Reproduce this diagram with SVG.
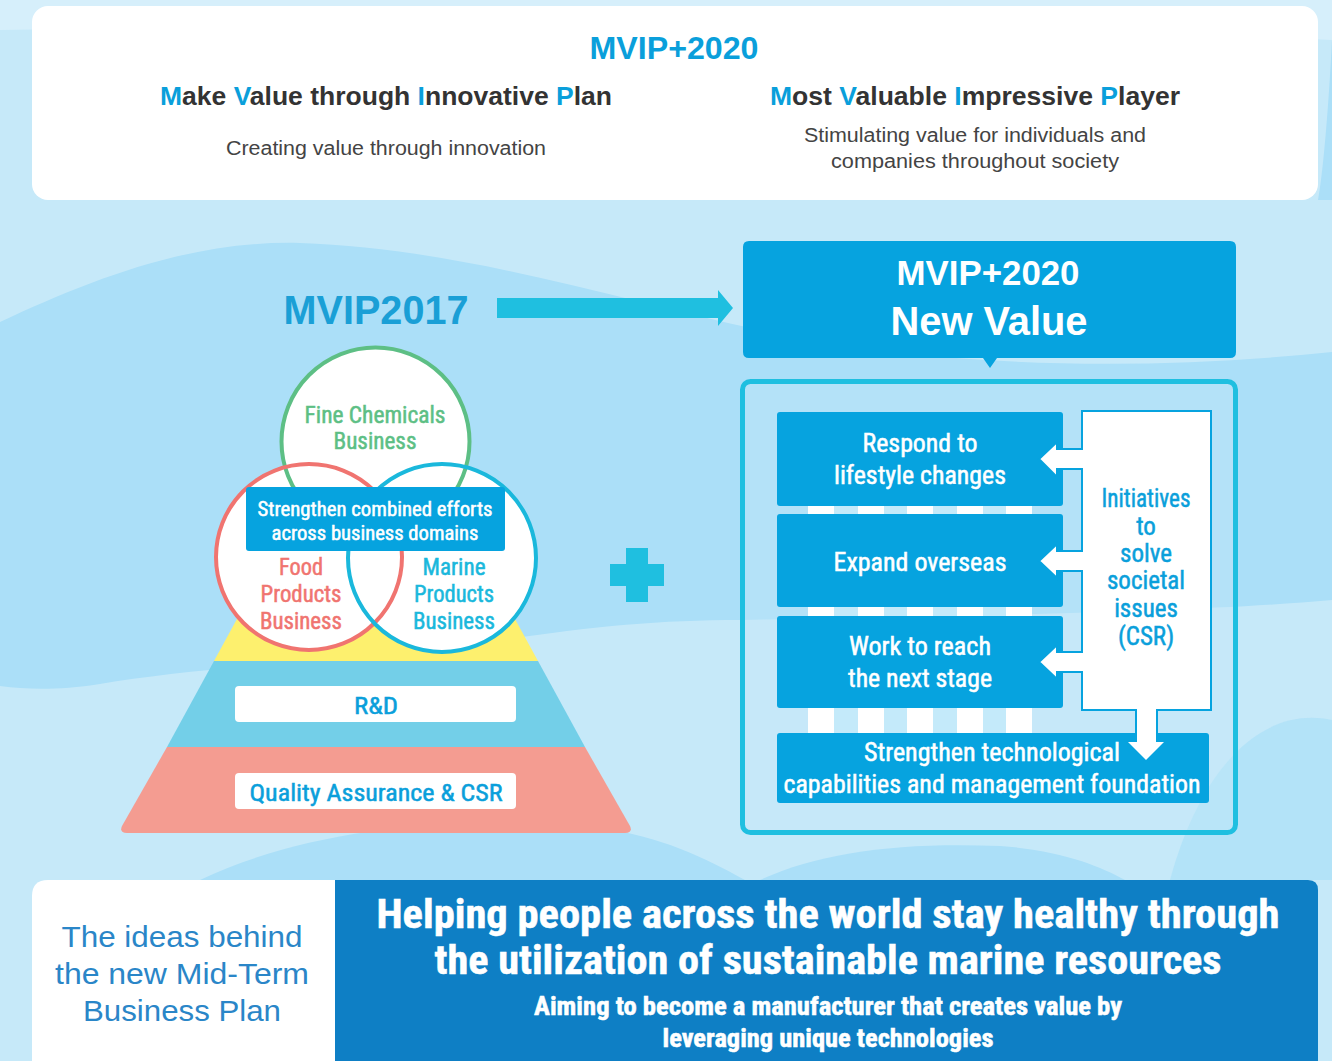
<svg xmlns="http://www.w3.org/2000/svg" width="1332" height="1061" viewBox="0 0 1332 1061">
  <defs>
    <style>
      .n { font-family: "Liberation Sans Narrow", "Roboto Condensed", "Liberation Sans", Arial, sans-serif; text-anchor: middle; stroke-width: 0.5; }
      .r { font-family: "Liberation Sans", Arial, Helvetica, sans-serif; text-anchor: middle; }
      .w { fill: #ffffff; }
      .n.w { stroke: #ffffff; }
      .cy { fill: #0a9fdb; }
      .n.cy, .n .cy { stroke: #0a9fdb; }
      .dk { fill: #333333; }
      .box { fill: #06a3df; }
      .ring { fill: none; stroke-width: 4; }
      .wave { fill: #abdff8; }
    </style>
  </defs>

  <!-- background waves -->
  <rect x="0" y="0" width="1332" height="1061" fill="#c6e9f9"/>
  <path d="M0,0 H1332 V40 C1000,25 600,20 0,30 Z" fill="#d6effb"/>
  <path class="wave" d="M1332,40 C1328,120 1322,180 1318,200 L1332,200 Z"/>
  <path class="wave" d="M0,322 C90,280 190,240 300,243 C460,248 620,300 760,330 C940,368 1140,372 1332,352 V600 C1200,612 1000,615 741,620 C640,620 560,630 440,650 C300,662 180,670 100,684 C60,690 30,690 0,686 Z"/>
  <path class="wave" d="M200,880 C300,832 450,812 600,828 C660,836 705,858 745,880 Z"/>
  <path class="wave" d="M760,880 C820,852 900,842 1000,846 C1060,850 1100,866 1125,880 Z"/>
  <path class="wave" d="M1170,880 C1200,770 1260,705 1332,720 V880 Z" opacity="0.7"/>

  <!-- top header card -->
  <g id="header-card">
    <rect x="32" y="6" width="1286" height="194" rx="16" fill="#ffffff"/>
    <text class="r cy" x="674" y="59" font-size="31" font-weight="bold" textLength="169" lengthAdjust="spacingAndGlyphs">MVIP+2020</text>
    <text class="r dk" x="386" y="105" font-size="25" font-weight="bold" textLength="452" lengthAdjust="spacingAndGlyphs"><tspan class="cy">M</tspan>ake <tspan class="cy">V</tspan>alue through <tspan class="cy">I</tspan>nnovative <tspan class="cy">P</tspan>lan</text>
    <text class="r dk" x="975" y="105" font-size="25" font-weight="bold" textLength="410" lengthAdjust="spacingAndGlyphs"><tspan class="cy">M</tspan>ost <tspan class="cy">V</tspan>aluable <tspan class="cy">I</tspan>mpressive <tspan class="cy">P</tspan>layer</text>
    <text class="r" x="386" y="155" font-size="19.5" fill="#444444" textLength="320" lengthAdjust="spacingAndGlyphs">Creating value through innovation</text>
    <text class="r" x="975" y="142" font-size="19.5" fill="#444444" textLength="342" lengthAdjust="spacingAndGlyphs">Stimulating value for individuals and</text>
    <text class="r" x="975" y="168" font-size="19.5" fill="#444444" textLength="288" lengthAdjust="spacingAndGlyphs">companies throughout society</text>
  </g>

  <!-- MVIP2017 title -->
  <g id="mvip2017">
    <text class="r" x="376" y="324" font-size="40" font-weight="bold" fill="#1a9fd6" textLength="185" lengthAdjust="spacingAndGlyphs">MVIP2017</text>
  </g>

  <!-- pyramid -->
  <g id="pyramid">
    <path d="M376,365 L538,661 L214,661 Z" fill="#fdf06e"/>
    <path d="M214,661 L538,661 L585,747 L167,747 Z" fill="#73cfe8"/>
    <path d="M167,747 L585,747 L630,826 Q633,833 625,833 L127,833 Q119,833 122,826 Z" fill="#f49c91"/>
    <rect x="235" y="686" width="281" height="36" rx="4" fill="#ffffff"/>
    <text class="n cy" x="376" y="714" font-size="24" textLength="44" lengthAdjust="spacingAndGlyphs">R&amp;D</text>
    <rect x="235" y="773" width="281" height="36" rx="4" fill="#ffffff"/>
    <text class="n cy" x="376" y="801" font-size="24" textLength="253" lengthAdjust="spacingAndGlyphs">Quality Assurance &amp; CSR</text>
  </g>

  <!-- venn of the three businesses -->
  <g id="venn">
    <circle cx="375.5" cy="441.5" r="94" fill="#ffffff"/>
    <circle cx="309" cy="557" r="93" fill="#ffffff"/>
    <circle cx="442" cy="558" r="94" fill="#ffffff"/>
    <circle class="ring" cx="375.5" cy="441.5" r="94" stroke="#5dbf85"/>
    <circle class="ring" cx="309" cy="557" r="93" stroke="#f07470"/>
    <circle class="ring" cx="442" cy="558" r="94" stroke="#1ab8dc"/>
    <g class="n" fill="#5dbf85" stroke="#5dbf85" font-size="23">
      <text x="375" y="423" textLength="141" lengthAdjust="spacingAndGlyphs">Fine Chemicals</text>
      <text x="375" y="449" textLength="83" lengthAdjust="spacingAndGlyphs">Business</text>
    </g>
    <g class="n" fill="#f07470" stroke="#f07470" font-size="23">
      <text x="301" y="575" textLength="44" lengthAdjust="spacingAndGlyphs">Food</text>
      <text x="301" y="602" textLength="81" lengthAdjust="spacingAndGlyphs">Products</text>
      <text x="301" y="629" textLength="82" lengthAdjust="spacingAndGlyphs">Business</text>
    </g>
    <g class="n" fill="#1ab8dc" stroke="#1ab8dc" font-size="23">
      <text x="454" y="575" textLength="63" lengthAdjust="spacingAndGlyphs">Marine</text>
      <text x="454" y="602" textLength="80" lengthAdjust="spacingAndGlyphs">Products</text>
      <text x="454" y="629" textLength="82" lengthAdjust="spacingAndGlyphs">Business</text>
    </g>
  </g>

  <g id="combined-efforts">
    <rect class="box" x="246" y="487" width="259" height="64" rx="3"/>
    <text class="n w" x="375" y="516" font-size="20" textLength="235" lengthAdjust="spacingAndGlyphs">Strengthen combined efforts</text>
    <text class="n w" x="375" y="540" font-size="20" textLength="207" lengthAdjust="spacingAndGlyphs">across business domains</text>
  </g>

  <!-- plus sign -->
  <g id="plus">
    <path d="M626,548 H648 V564 H664 V586 H648 V602 H626 V586 H610 V564 H626 Z" fill="#1fbfe0"/>
  </g>

  <!-- connectors -->
  <g id="connectors">
    <path d="M497,298 H718 V290 L733,308 L718,326 V318 H497 Z" fill="#1fbfe0"/>
  </g>

  <!-- MVIP+2020 new value header -->
  <g id="new-value">
    <path d="M749,241 H1230 Q1236,241 1236,247 V352 Q1236,358 1230,358 H997 L990,368 L983,358 H749 Q743,358 743,352 V247 Q743,241 749,241 Z" fill="#06a3df"/>
    <text class="r w" x="988" y="285" font-size="35" font-weight="bold" textLength="183" lengthAdjust="spacingAndGlyphs">MVIP+2020</text>
    <text class="r w" x="989" y="335" font-size="41" font-weight="bold" textLength="197" lengthAdjust="spacingAndGlyphs">New Value</text>
  </g>

  <!-- new value frame -->
  <g id="frame">
    <rect x="742.5" y="381.5" width="493" height="451" rx="8" fill="#c6e9f9" fill-opacity="0.35" stroke="#1fbfe0" stroke-width="5"/>
    <!-- ladder columns linking the pillars -->
    <g fill="#c4eafa">
      <rect x="834" y="500" width="24" height="236"/>
      <rect x="884" y="500" width="23" height="236"/>
      <rect x="933" y="500" width="24" height="236"/>
      <rect x="983" y="500" width="23" height="236"/>
    </g>
    <g fill="#ffffff">
      <rect x="808" y="500" width="26" height="236"/>
      <rect x="858" y="500" width="26" height="236"/>
      <rect x="907" y="500" width="26" height="236"/>
      <rect x="957" y="500" width="26" height="236"/>
      <rect x="1006" y="500" width="26" height="236"/>
    </g>
  </g>

  <g id="respond">
    <rect class="box" x="777" y="412" width="286" height="94" rx="3"/>
    <text class="n w" x="920" y="452" font-size="25" textLength="115" lengthAdjust="spacingAndGlyphs">Respond to</text>
    <text class="n w" x="920" y="484" font-size="25" textLength="172" lengthAdjust="spacingAndGlyphs">lifestyle changes</text>
  </g>
  <g id="expand">
    <rect class="box" x="777" y="514" width="286" height="93" rx="3"/>
    <text class="n w" x="920" y="571" font-size="25" textLength="173" lengthAdjust="spacingAndGlyphs">Expand overseas</text>
  </g>
  <g id="next-stage">
    <rect class="box" x="777" y="616" width="286" height="92" rx="3"/>
    <text class="n w" x="920" y="655" font-size="25" textLength="142" lengthAdjust="spacingAndGlyphs">Work to reach</text>
    <text class="n w" x="920" y="687" font-size="25" textLength="144" lengthAdjust="spacingAndGlyphs">the next stage</text>
  </g>
  <g id="foundation">
    <rect class="box" x="777" y="733" width="432" height="70" rx="3"/>
    <text class="n w" x="992" y="761" font-size="25" textLength="256" lengthAdjust="spacingAndGlyphs">Strengthen technological</text>
    <text class="n w" x="992" y="793" font-size="25" textLength="417" lengthAdjust="spacingAndGlyphs">capabilities and management foundation</text>
  </g>

  <g id="csr">
    <path d="M1082,411 H1211 V710 H1157 V742 H1164 L1146,760 L1128,742 H1136 V710 H1082 V672 H1057 V679 L1039,662 L1057,645 V652 H1082 V571 H1057 V578 L1039,561 L1057,544 V551 H1082 V469 H1057 V477 L1039,459 L1057,442 V449 H1082 Z" fill="#ffffff" stroke="#06a3df" stroke-width="2" stroke-linejoin="miter"/>
    <path d="M1137,733 V742 H1128 L1146,760 L1164,742 H1156 V733 Z" fill="#ffffff"/>
    <g class="n cy" font-size="25">
      <text x="1146" y="507" textLength="89" lengthAdjust="spacingAndGlyphs">Initiatives</text>
      <text x="1146" y="535">to</text>
      <text x="1146" y="562">solve</text>
      <text x="1146" y="589">societal</text>
      <text x="1146" y="617">issues</text>
      <text x="1146" y="645">(CSR)</text>
    </g>
  </g>

  <!-- bottom statement -->
  <g id="ideas">
    <path d="M48,880 H335 V1061 H32 V896 Q32,880 48,880 Z" fill="#ffffff"/>
    <text class="r" x="182" y="947" font-size="29" fill="#2a86c8" textLength="241" lengthAdjust="spacingAndGlyphs">The ideas behind</text>
    <text class="r" x="182" y="984" font-size="29" fill="#2a86c8" textLength="254" lengthAdjust="spacingAndGlyphs">the new Mid-Term</text>
    <text class="r" x="182" y="1021" font-size="29" fill="#2a86c8" textLength="198" lengthAdjust="spacingAndGlyphs">Business Plan</text>
  </g>
  <g id="mission">
    <path d="M335,880 H1308 Q1318,880 1318,890 V1061 H335 Z" fill="#0e7fc5"/>
    <text class="n w" x="828" y="928" font-size="41" font-weight="bold" textLength="903" lengthAdjust="spacingAndGlyphs">Helping people across the world stay healthy through</text>
    <text class="n w" x="828" y="974" font-size="41" font-weight="bold" textLength="787" lengthAdjust="spacingAndGlyphs">the utilization of sustainable marine resources</text>
    <text class="n w" x="828" y="1015" font-size="25" font-weight="bold" textLength="588" lengthAdjust="spacingAndGlyphs">Aiming to become a manufacturer that creates value by</text>
    <text class="n w" x="828" y="1047" font-size="25" font-weight="bold" textLength="331" lengthAdjust="spacingAndGlyphs">leveraging unique technologies</text>
  </g>
</svg>
